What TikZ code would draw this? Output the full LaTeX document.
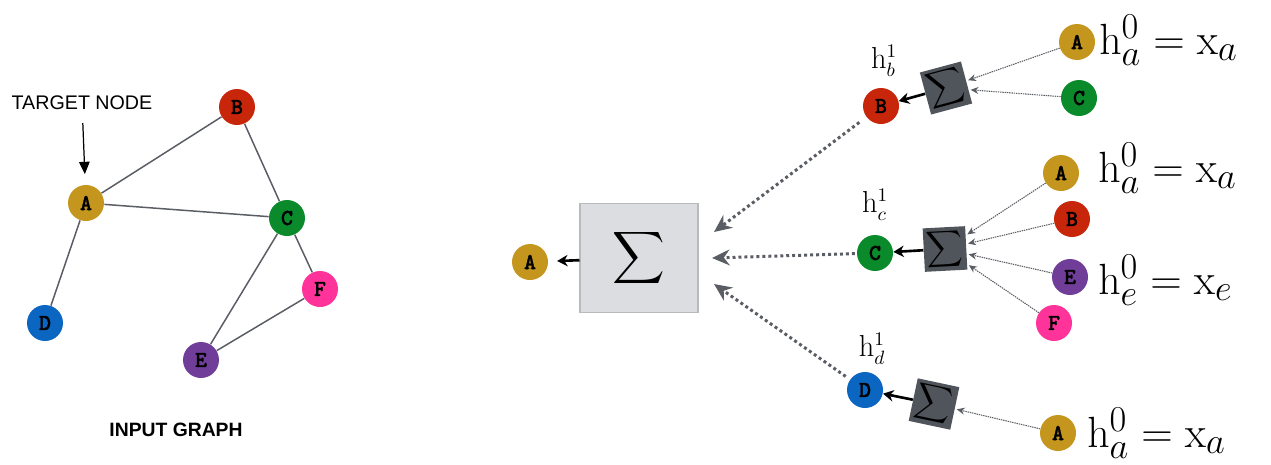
\documentclass[tikz,border=0pt]{standalone}
\usepackage{exscale}
\usepackage[no-math]{fontspec}
\setmainfont{Liberation Sans}
\newfontfamily\lettermono{lmmonolt10-bold.otf}[FakeBold=1.5]
\usepackage{tikz}
\usetikzlibrary{positioning, arrows.meta}
\definecolor{nodegold}{HTML}{C5961E}
\definecolor{nodered}{HTML}{C8260A}
\definecolor{nodegreen}{HTML}{0B8A2C}
\definecolor{nodeblue}{HTML}{0B66C2}
\definecolor{nodepurple}{HTML}{703D98}
\definecolor{nodepink}{HTML}{FF3399}
\definecolor{linkgray}{HTML}{5A5E64}
\definecolor{sumdark}{HTML}{50545B}
\definecolor{sumlight}{HTML}{DCDDE0}
\definecolor{sumedge}{HTML}{B9BABD}

\begin{document}
\begin{tikzpicture}[x=0.02cm, y=-0.02cm,
    gnode/.style={circle, minimum size=0.72cm, inner sep=0pt,
      font={\lettermono\fontsize{13}{13}\selectfont}},
    link/.style={draw=linkgray, line width=0.85pt},
    smallsum/.style={fill=sumdark, minimum width=0.85cm, minimum height=0.87cm,
      inner sep=0pt, font=\fontsize{14.5}{14.5}\selectfont},
    bigsum/.style={fill=sumlight, draw=sumedge, line width=0.6pt,
      minimum width=2.36cm, minimum height=2.18cm, font=\fontsize{22}{22}\selectfont},
    pushout/.style={-{Stealth[length=6pt, width=6.5pt]}, line width=1.5pt, black},
    bigflow/.style={-{Stealth[length=10pt, width=9pt]}, draw=linkgray,
      line width=1.7pt, dash pattern=on 1.7pt off 1.7pt},
    flow/.style={-{Stealth[length=4.5pt, width=4pt]}, draw=linkgray,
      line width=0.6pt, dash pattern=on 0.8pt off 0.5pt, shorten >=1pt},
    hsmall/.style={inner sep=0pt, font=\fontsize{16}{16}\selectfont},
    hbig/.style={anchor=west, inner sep=0pt, font=\fontsize{28}{28}\selectfont}]
  \useasboundingbox (0,0) rectangle (1271,464);

  % input graph
  \node[gnode, fill=nodegold] (gA) at (86,203) {A};
  \node[gnode, fill=nodered] (gB) at (237,107) {B};
  \node[gnode, fill=nodegreen] (gC) at (287,218) {C};
  \node[gnode, fill=nodeblue] (gD) at (45,323) {D};
  \node[gnode, fill=nodepurple] (gE) at (201,360) {E};
  \node[gnode, fill=nodepink] (gF) at (320,289) {F};
  \draw[link] (gA) -- (gB);
  \draw[link] (gA) -- (gC);
  \draw[link] (gA) -- (gD);
  \draw[link] (gB) -- (gC);
  \draw[link] (gC) -- (gE);
  \draw[link] (gC) -- (gF);
  \draw[link] (gE) -- (gF);
  \node[font=\fontsize{11.2}{11.2}\selectfont] (target) at (82,103) {TARGET NODE};
  \draw[-{Triangle[length=7pt, width=6pt]}, line width=0.7pt, shorten <=4pt, shorten >=6pt]
    (target) -- (gA);
  \node[font=\bfseries\fontsize{11}{11}\selectfont] (caption) at (176,430) {INPUT GRAPH};

  % layer 2 aggregation
  \node[gnode, fill=nodegold] (outA) at (530,262) {A};
  \node[bigsum] (agg) at (639,258) {$\displaystyle\sum$};
  \draw[pushout, shorten >=5pt] (agg) -- (outA);
  \coordinate (tipB) at (714,232);
  \coordinate (tipC) at (712,258);
  \coordinate (tipD) at (714,284);

  % layer 1, node B
  \node[gnode, fill=nodered] (b1) at (881,106) {B};
  \node[hsmall] (hb) at (884,61) {$\mathrm{h}_b^1$};
  \node[smallsum, rotate=15] (sumb) at (946,88) {$\displaystyle\sum$};
  \node[gnode, fill=nodegold] (ba) at (1077,42) {A};
  \node[gnode, fill=nodegreen] (bc) at (1079,98) {C};
  \node[hbig] (hba) at (1099,40) {$\mathrm{h}_a^0 = \mathrm{x}_a$};
  \draw[flow] (ba) -- (sumb);
  \draw[flow] (bc) -- (sumb);
  \draw[pushout] (sumb) -- (b1);

  % layer 1, node C
  \node[gnode, fill=nodegreen] (c1) at (875,253) {C};
  \node[hsmall] (hc) at (875,205) {$\mathrm{h}_c^1$};
  \node[smallsum, rotate=3] (sumc) at (945,249) {$\displaystyle\sum$};
  \node[gnode, fill=nodegold] (ca) at (1061,173) {A};
  \node[gnode, fill=nodered] (cb) at (1072,219) {B};
  \node[gnode, fill=nodepurple] (ce) at (1070,277) {E};
  \node[gnode, fill=nodepink] (cf) at (1054,323) {F};
  \node[hbig] (hca) at (1098,168) {$\mathrm{h}_a^0 = \mathrm{x}_a$};
  \node[hbig] (hce) at (1098,280) {$\mathrm{h}_e^0 = \mathrm{x}_e$};
  \draw[flow] (ca) -- (sumc);
  \draw[flow] (cb) -- (sumc);
  \draw[flow] (ce) -- (sumc);
  \draw[flow] (cf) -- (sumc);
  \draw[pushout] (sumc) -- (c1);

  % layer 1, node D
  \node[gnode, fill=nodeblue] (d1) at (865,390) {D};
  \node[hsmall] (hd) at (872,349) {$\mathrm{h}_d^1$};
  \node[smallsum, rotate=-12] (sumd) at (934,404) {$\displaystyle\sum$};
  \node[gnode, fill=nodegold] (da) at (1058,433) {A};
  \node[hbig] (hda) at (1087,433) {$\mathrm{h}_a^0 = \mathrm{x}_a$};
  \draw[flow] (da) -- (sumd);
  \draw[pushout] (sumd) -- (d1);

  % into the top aggregation
  \draw[bigflow, shorten <=5pt] (b1) -- (tipB);
  \draw[bigflow, shorten <=1pt] (c1) -- (tipC);
  \draw[bigflow, shorten <=3pt] (d1) -- (tipD);
\end{tikzpicture}
\end{document}
